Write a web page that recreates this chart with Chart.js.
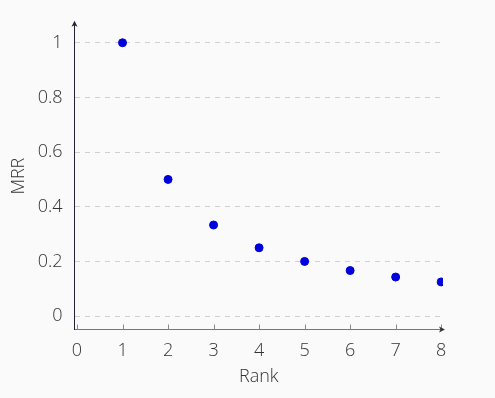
<!DOCTYPE html>
<html>
<head>
<meta charset="utf-8">
<script src="https://cdn.jsdelivr.net/npm/chart.js@4"></script>
<style>
  html, body { margin: 0; padding: 0; background: #fafafa; }
  #wrap { width: 495px; height: 398px; }
</style>
</head>
<body>
<div id="wrap"><canvas id="chart" width="495" height="398"></canvas></div>
<script>
var ranks = [1, 2, 3, 4, 5, 6, 7, 8];
var mrr = [1, 0.5, 0.3333, 0.25, 0.2, 0.1667, 0.1429, 0.125];
var xTicks = [0, 1, 2, 3, 4, 5, 6, 7, 8];
var yTicks = [0, 0.2, 0.4, 0.6, 0.8, 1];

var font = { family: "'Open Sans', sans-serif", size: 18, weight: 300 };
var textColor = "#333";

// axis arrows and inward x ticks, drawn on the library's scales
var axisDecor = {
  id: 'axisDecor',
  afterDraw: chart => {
    const ctx = chart.ctx;
    const a = chart.chartArea;
    const xs = chart.scales.x;
    ctx.save();
    // x tick marks pointing up
    ctx.strokeStyle = "#888";
    ctx.lineWidth = 1;
    xTicks.forEach(v => {
      const px = Math.round(xs.getPixelForValue(v)) + 0.5;
      ctx.beginPath();
      ctx.moveTo(px, a.bottom);
      ctx.lineTo(px, a.bottom - 5);
      ctx.stroke();
    });
    // x arrow
    ctx.fillStyle = "#333";
    ctx.beginPath();
    ctx.moveTo(a.right + 2, a.bottom);
    ctx.lineTo(a.right - 4, a.bottom - 3);
    ctx.lineTo(a.right - 2.5, a.bottom);
    ctx.lineTo(a.right - 4, a.bottom + 3);
    ctx.closePath();
    ctx.fill();
    // y arrow
    ctx.fillStyle = "#223";
    ctx.beginPath();
    ctx.moveTo(a.left, a.top - 2);
    ctx.lineTo(a.left - 3, a.top + 4);
    ctx.lineTo(a.left, a.top + 2.5);
    ctx.lineTo(a.left + 3, a.top + 4);
    ctx.closePath();
    ctx.fill();
    ctx.restore();
  }
};

new Chart(
  document.getElementById("chart"),
  {
    type: 'scatter',
    data: {
      datasets: [
        {
          data: ranks.map((r, i) => ({ x: r, y: mrr[i] })),
          backgroundColor: "#0000dd",
          borderColor: "#0000dd",
          pointRadius: 4,
          pointHoverRadius: 4
        }
      ]
    },
    options: {
      responsive: false,
      animation: false,
      layout: { padding: { left: 0, right: 52, top: 22, bottom: 0 } },
      plugins: {
        legend: { display: false },
        tooltip: { enabled: false }
      },
      scales: {
        x: {
          type: 'linear',
          min: -0.055,
          max: 8.04,
          afterBuildTicks: scale => {
            scale.ticks = xTicks.map(v => ({ value: v }));
          },
          afterFit: scale => { scale.height = 68.5; },
          grid: { display: false },
          border: { display: true, color: "#777", width: 1 },
          ticks: {
            color: textColor,
            font: font,
            padding: 3,
            maxRotation: 0
          },
          title: {
            display: true,
            text: "Rank",
            color: textColor,
            font: font,
            padding: { top: 2, bottom: 10 }
          }
        },
        y: {
          type: 'linear',
          min: -0.049,
          max: 1.073,
          afterBuildTicks: scale => {
            scale.ticks = yTicks.map(v => ({ value: v }));
          },
          afterFit: scale => { scale.width = 74.5; },
          grid: {
            color: "#d0d0d0",
            drawTicks: false
          },
          border: { display: true, color: "#223", width: 1, dash: [5, 5] },
          ticks: {
            color: textColor,
            font: font,
            padding: 12,
            callback: v => String(Math.round(v * 10) / 10)
          },
          title: {
            display: true,
            text: "MRR",
            color: textColor,
            font: font,
            padding: { top: 8, bottom: 0 }
          }
        }
      }
    },
    plugins: [axisDecor]
  }
);
</script>
</body>
</html>
